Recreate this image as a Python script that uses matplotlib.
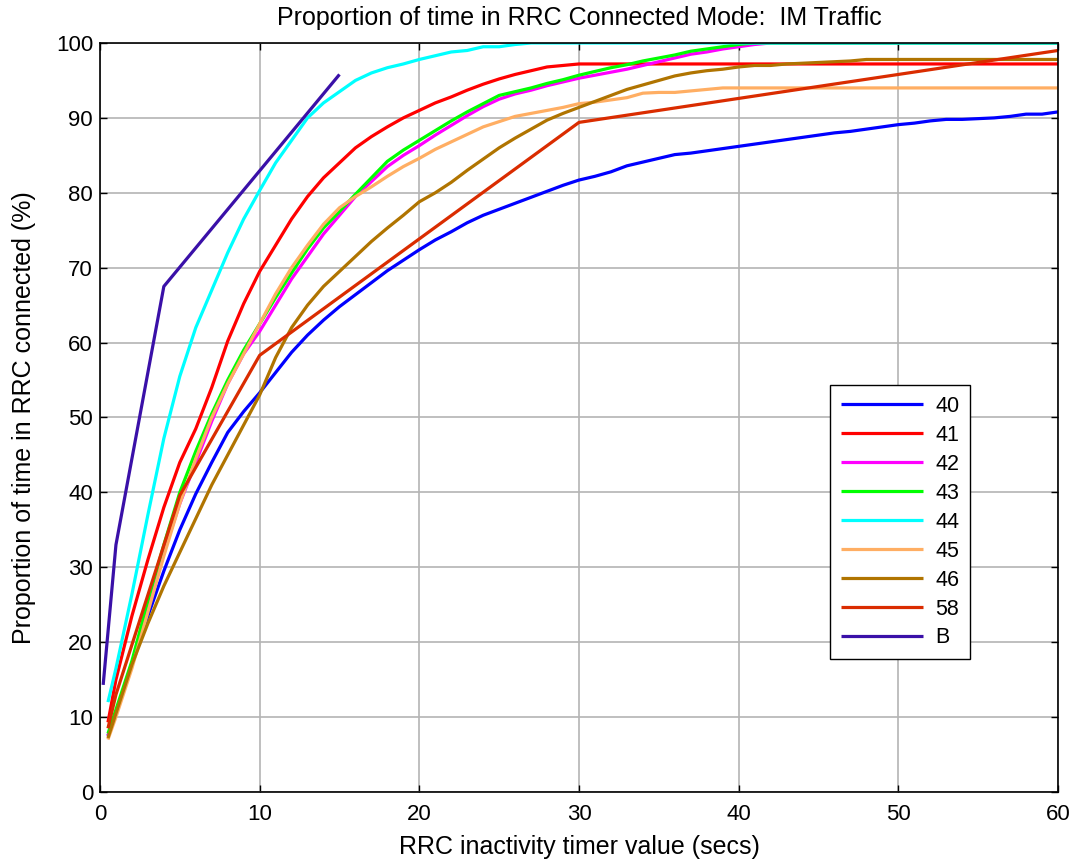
import matplotlib
matplotlib.use("Agg")
import matplotlib.pyplot as plt

plt.rcParams['font.family'] = ['Liberation Sans', 'DejaVu Sans']

# Timer values (secs) at which the connected-time proportion was evaluated
timer = [0.5, 1, 2, 3, 4, 5, 6, 7, 8, 9, 10,
         11, 12, 13, 14, 15, 16, 17, 18, 19, 20,
         21, 22, 23, 24, 25, 26, 27, 28, 29, 30,
         31, 32, 33, 34, 35, 36, 37, 38, 39, 40,
         41, 42, 43, 44, 45, 46, 47, 48, 49, 50,
         51, 52, 53, 54, 55, 56, 57, 58, 59, 60]

s40 = [7.5, 10.5, 17, 23.5, 29.5, 35, 39.8, 44, 48, 50.8, 53.3,
       56, 58.7, 61, 63, 64.8, 66.4, 68, 69.6, 71, 72.4,
       73.7, 74.8, 76, 77, 77.8, 78.6, 79.4, 80.2, 81, 81.7,
       82.2, 82.8, 83.6, 84.1, 84.6, 85.1, 85.3, 85.6, 85.9, 86.2,
       86.5, 86.8, 87.1, 87.4, 87.7, 88, 88.2, 88.5, 88.8, 89.1,
       89.3, 89.6, 89.8, 89.8, 89.9, 90.0, 90.2, 90.5, 90.5, 90.8]

s41 = [9.3, 15, 23.5, 31, 38, 44, 48.5, 54, 60.2, 65.2, 69.5,
       73, 76.5, 79.5, 82, 84, 86, 87.5, 88.8, 90, 91,
       92, 92.8, 93.7, 94.5, 95.2, 95.8, 96.3, 96.8, 97, 97.2,
       97.2, 97.2, 97.2, 97.2, 97.2, 97.2, 97.2, 97.2, 97.2, 97.2,
       97.2, 97.2, 97.2, 97.2, 97.2, 97.2, 97.2, 97.2, 97.2, 97.2,
       97.2, 97.2, 97.2, 97.2, 97.2, 97.2, 97.2, 97.2, 97.2, 97.2]

s42 = [7.5, 10.5, 17, 25, 32, 38.5, 44, 49.5, 54.5, 58.5, 61.5,
       65, 68.5, 71.5, 74.5, 77, 79.5, 81.5, 83.5, 85, 86.3,
       87.7, 89, 90.3, 91.5, 92.5, 93.2, 93.7, 94.3, 94.8, 95.3,
       95.7, 96.1, 96.5, 97, 97.5, 98, 98.5, 98.8, 99.2, 99.5,
       99.8, 100, 100, 100, 100, 100, 100, 100, 100, 100,
       100, 100, 100, 100, 100, 100, 100, 100, 100, 100]

s43 = [7.8, 11, 17.5, 25.5, 33, 40, 45.5, 50.5, 55, 59, 62.5,
       66, 69.3, 72.5, 75.3, 77.5, 79.8, 82, 84.2, 85.7, 87,
       88.3, 89.6, 90.8, 91.9, 93, 93.5, 94, 94.6, 95.1, 95.7,
       96.2, 96.7, 97.1, 97.6, 98, 98.4, 98.9, 99.2, 99.5, 99.8,
       100, 100, 100, 100, 100, 100, 100, 100, 100, 100,
       100, 100, 100, 100, 100, 100, 100, 100, 100, 100]

s44 = [12, 16.5, 26.4, 37, 47.2, 55.5, 62, 67, 72, 76.5, 80.3,
       84, 87, 90, 92, 93.5, 95, 96, 96.7, 97.2, 97.8,
       98.3, 98.8, 99, 99.5, 99.5, 99.8, 100, 100, 100, 100,
       100, 100, 100, 100, 100, 100, 100, 100, 100, 100,
       100, 100, 100, 100, 100, 100, 100, 100, 100, 100,
       100, 100, 100, 100, 100, 100, 100, 100, 100, 100]

s45 = [7, 10, 16.5, 24, 31.5, 38.5, 44.5, 50, 54.5, 58.5, 62.5,
       66.5, 70, 73, 75.8, 78, 79.5, 80.8, 82.2, 83.5, 84.6,
       85.8, 86.8, 87.8, 88.8, 89.5, 90.2, 90.6, 91, 91.4, 91.9,
       92.1, 92.4, 92.7, 93.3, 93.4, 93.4, 93.6, 93.8, 94, 94,
       94, 94, 94, 94, 94, 94, 94, 94, 94, 94,
       94, 94, 94, 94, 94, 94, 94, 94, 94, 94]

s46 = [7.2, 10.5, 17, 22.5, 27.5, 32, 36.5, 41, 45, 49, 53,
       58, 62, 65, 67.5, 69.5, 71.5, 73.5, 75.3, 77, 78.8,
       80, 81.4, 83, 84.5, 86, 87.3, 88.5, 89.7, 90.6, 91.4,
       92.2, 93, 93.8, 94.4, 95, 95.6, 96, 96.3, 96.5, 96.8,
       97, 97, 97.2, 97.3, 97.4, 97.5, 97.6, 97.8, 97.8, 97.8,
       97.8, 97.8, 97.8, 97.8, 97.8, 97.8, 97.8, 97.8, 97.8, 97.8]

# Series 58 and B were only sampled at a few timer settings
timer58 = [0.5, 1, 5, 10, 30, 60]
s58 = [8.5, 13, 39.6, 58.3, 89.4, 99.0]

timerB = [0.2, 1, 4, 15]
sB = [14.3, 33, 67.5, 95.8]

labels = ['40', '41', '42', '43', '44', '45', '46', '58', 'B']
colors = ['#0000FF', '#FF0000', '#FF00FF', '#00FF00', '#00FFFF',
          '#FFAE63', '#B07400', '#DA2C00', '#3A10A8']

x_ticks = [0, 10, 20, 30, 40, 50, 60]
y_ticks = [0, 10, 20, 30, 40, 50, 60, 70, 80, 90, 100]

fig = plt.figure(figsize=(10.75, 8.65), dpi=100)
ax = fig.add_axes([0.093, 0.0844, 0.8912, 0.8659])

series = [(timer, s40), (timer, s41), (timer, s42), (timer, s43),
          (timer, s44), (timer, s45), (timer, s46), (timer58, s58),
          (timerB, sB)]
for (xs, ys), lab, col in zip(series, labels, colors):
    ax.plot(xs, ys, color=col, linewidth=2.3, label=lab, solid_capstyle='butt')

ax.set_xlim(0, 60)
ax.set_ylim(0, 100)
ax.set_xticks(x_ticks)
ax.set_yticks(y_ticks)
ax.grid(True, color='#b4b4b4', linewidth=1.2, linestyle='-')
ax.set_axisbelow(True)
ax.tick_params(direction='in', top=True, right=True, length=5, width=1,
               labelsize=16)
ax.tick_params(axis='x', pad=9)
ax.tick_params(axis='y', pad=5)
for sp in ax.spines.values():
    sp.set_linewidth(1.2)

ax.set_title('Proportion of time in RRC Connected Mode:  IM Traffic',
             fontsize=18, pad=13)
ax.set_xlabel('RRC inactivity timer value (secs)', fontsize=18, labelpad=7)
ax.set_ylabel('Proportion of time in RRC connected (%)', fontsize=18, labelpad=14)

leg = ax.legend(loc='upper left', bbox_to_anchor=(0.762, 0.5434),
                fontsize=15.5, handlelength=3.8, handletextpad=0.6,
                labelspacing=0.37, borderpad=0.5, fancybox=False,
                framealpha=1, edgecolor='black', borderaxespad=0)
leg.get_frame().set_linewidth(1.0)

fig.savefig('out.png', dpi=100)
